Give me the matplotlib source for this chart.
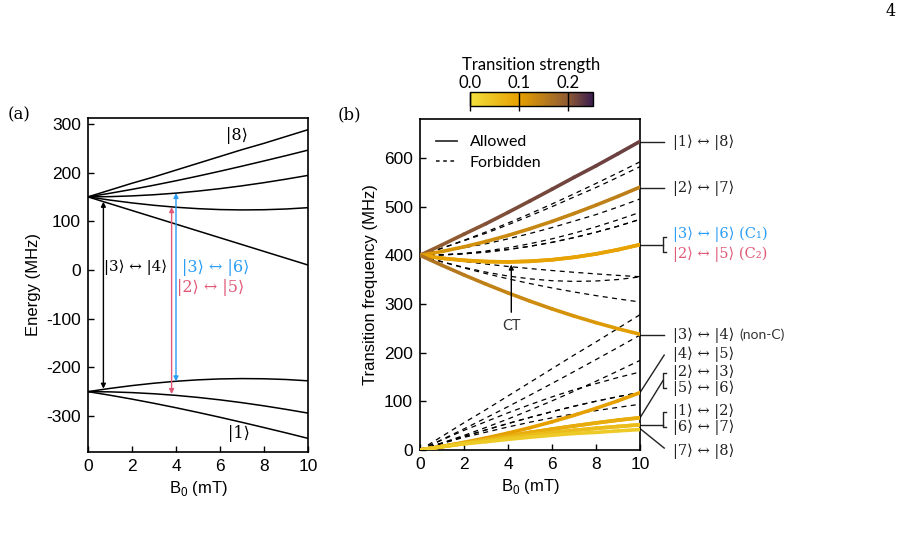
import numpy as np
import matplotlib.pyplot as plt
from matplotlib.collections import LineCollection
from matplotlib.colors import LinearSegmentedColormap, Normalize
from matplotlib.lines import Line2D
import matplotlib as mpl

plt.rcParams['font.family'] = ['Liberation Sans', 'DejaVu Sans']
plt.rcParams['axes.unicode_minus'] = False
plt.rcParams['mathtext.fontset'] = 'custom'
plt.rcParams['mathtext.rm'] = 'Liberation Sans'
plt.rcParams['mathtext.sf'] = 'Liberation Sans'

SERIF = ['DejaVu Serif', 'DejaVu Sans']
SANS2 = ['Lato', 'DejaVu Sans']

# magnetic field (mT)
B = [0, 1, 2, 3, 4, 5, 6, 7, 8, 9, 10]

# energy levels |1> ... |8> (MHz)
E1 = [-250, -257.4, -265.4, -274.0, -283.1, -292.7, -302.7, -313.1, -323.8, -334.7, -346.0]
E2 = [-250, -250.5, -252.0, -254.4, -257.7, -261.9, -266.9, -272.7, -279.2, -286.4, -294.1]
E3 = [-250, -243.4, -237.6, -232.7, -228.7, -225.8, -223.9, -223.2, -223.6, -225.1, -227.8]
E4 = [150, 136, 122, 108, 94, 80, 66, 52, 38, 24, 10]
E5 = [150, 143.4, 137.6, 132.7, 128.7, 125.8, 123.9, 123.2, 123.6, 125.1, 127.8]
E6 = [150, 150.5, 152.0, 154.4, 157.7, 161.9, 166.9, 172.7, 179.2, 186.4, 194.1]
E7 = [150, 157.4, 165.4, 174.0, 183.1, 192.7, 202.7, 213.1, 223.8, 234.7, 246.0]
E8 = [150, 164, 178, 191, 205, 219, 233, 247, 260, 274, 288]
levels = [E1, E2, E3, E4, E5, E6, E7, E8]

# allowed transitions (lower, upper) and their strength along B
allowed = [(1, 8), (2, 7), (3, 6), (2, 5), (3, 4),
           (4, 5), (2, 3), (5, 6), (1, 2), (6, 7), (7, 8)]
strength = {
    (1, 8): [0.19, 0.195, 0.2, 0.205, 0.21, 0.213, 0.216, 0.218, 0.22, 0.221, 0.222],
    (2, 7): [0.11, 0.115, 0.12, 0.125, 0.13, 0.135, 0.138, 0.141, 0.144, 0.147, 0.15],
    (3, 6): [0.10, 0.10, 0.10, 0.10, 0.10, 0.10, 0.10, 0.10, 0.10, 0.10, 0.10],
    (2, 5): [0.095, 0.095, 0.095, 0.095, 0.095, 0.095, 0.095, 0.095, 0.095, 0.095, 0.095],
    (3, 4): [0.165, 0.16, 0.153, 0.145, 0.138, 0.131, 0.124, 0.118, 0.112, 0.106, 0.10],
    (4, 5): [0.11, 0.108, 0.106, 0.104, 0.102, 0.10, 0.10, 0.10, 0.10, 0.10, 0.10],
    (2, 3): [0.085, 0.085, 0.085, 0.085, 0.085, 0.085, 0.085, 0.085, 0.085, 0.085, 0.085],
    (5, 6): [0.08, 0.08, 0.08, 0.08, 0.08, 0.08, 0.08, 0.08, 0.08, 0.08, 0.08],
    (1, 2): [0.06, 0.06, 0.06, 0.06, 0.06, 0.06, 0.06, 0.06, 0.06, 0.06, 0.06],
    (6, 7): [0.055, 0.055, 0.055, 0.055, 0.055, 0.055, 0.055, 0.055, 0.055, 0.055, 0.055],
    (7, 8): [0.035, 0.035, 0.035, 0.035, 0.035, 0.035, 0.035, 0.035, 0.035, 0.035, 0.035],
}
forbidden = [(1, 4), (1, 5), (1, 6), (1, 7), (2, 4), (2, 6), (2, 8),
             (3, 5), (3, 7), (3, 8), (4, 6), (4, 7), (4, 8), (5, 7),
             (5, 8), (6, 8), (1, 3)]

cmap = LinearSegmentedColormap.from_list(
    'strength', [(0.0, '#f2e03c'), (0.4, '#e6a000'), (0.8, '#8e5a34'), (1.0, '#3b1d4f')])
norm = Normalize(0, 0.25)

BLUE = '#2a9df4'
RED = '#e05a78'


def ket(a, b):
    return '|%d⟩ ↔ |%d⟩' % (a, b)


fig = plt.figure(figsize=(9.1, 5.53), dpi=100)
W, H = 910, 553
ax1 = fig.add_axes([88 / W, 1 - 452 / H, 220 / W, 334 / H])
ax2 = fig.add_axes([420 / W, 1 - 450 / H, 220 / W, 331 / H])

# ---- panel (a)
for E in levels:
    ax1.plot(B, E, color='black', lw=1.1)
ax1.set_xlim(0, 10)
ax1.set_ylim(-374, 312)
ax1.set_xticks([0, 2, 4, 6, 8, 10])
ax1.set_yticks([-300, -200, -100, 0, 100, 200, 300])
ax1.set_xlabel(r'B$_\mathsf{0}$ (mT)', fontsize=12)
ax1.set_ylabel('Energy (MHz)', fontsize=12)

for x, lo, hi, c in [(0.7, -244, 140, 'black'), (3.8, -255, 129, RED), (4.0, -229, 158, BLUE)]:
    ax1.annotate('', xy=(x, hi), xytext=(x, lo),
                 arrowprops=dict(arrowstyle='<|-|>', color=c, lw=1.0,
                                 mutation_scale=7, shrinkA=0, shrinkB=0))
ax1.text(0.75, 5, ket(3, 4), fontsize=10.8, family=SERIF, va='center')
ax1.text(4.25, 5, ket(3, 6), fontsize=11.5, family=SERIF, va='center', color=BLUE)
ax1.text(4.05, -36, ket(2, 5), fontsize=11.5, family=SERIF, va='center', color=RED)
ax1.text(6.25, 276, '|8⟩', fontsize=11.5, family=SERIF, va='center')
ax1.text(6.35, -336, '|1⟩', fontsize=11.5, family=SERIF, va='center')

# ---- panel (b)
for i, j in forbidden:
    f = np.array(levels[j - 1]) - np.array(levels[i - 1])
    ax2.plot(B, f, color='black', lw=0.9, ls=(0, (4, 3.5)), zorder=2)

for i, j in allowed:
    f = np.array(levels[j - 1]) - np.array(levels[i - 1])
    pts = np.column_stack([B, f])
    segs = np.stack([pts[:-1], pts[1:]], axis=1)
    s = np.array(strength[(i, j)])
    lc = LineCollection(segs, cmap=cmap, norm=norm, linewidths=2.6,
                        capstyle='round', zorder=3)
    lc.set_array((s[:-1] + s[1:]) / 2)
    ax2.add_collection(lc)

ax2.set_xlim(0, 10)
ax2.set_ylim(0, 680)
ax2.set_xticks([0, 2, 4, 6, 8, 10])
ax2.set_yticks([0, 100, 200, 300, 400, 500, 600])
ax2.set_xlabel(r'B$_\mathsf{0}$ (mT)', fontsize=12)
ax2.set_ylabel('Transition frequency (MHz)', fontsize=12)

handles = [Line2D([], [], color='#333333', lw=1.3),
           Line2D([], [], color='#333333', lw=1.3, ls=(0, (2, 2)))]
leg = ax2.legend(handles, ['Allowed', 'Forbidden'], loc='upper left',
                 frameon=False, prop={'family': SANS2, 'size': 11.5},
                 handlelength=1.3, borderaxespad=0.6, labelspacing=0.4)

ax2.annotate('', xy=(4.15, 381), xytext=(4.15, 283),
             arrowprops=dict(arrowstyle='-|>', color='black', lw=1.0,
                             mutation_scale=7, shrinkA=0, shrinkB=0))
ax2.text(4.15, 255, 'CT', fontsize=10.5, family=SANS2, ha='center', va='center', color='#333333')

lk = dict(color='#222222', lw=1.0, clip_on=False)
tx = 11.5


def lab(y, s, color='#222222'):
    ax2.text(tx, y, s, fontsize=10.5, family=SERIF, va='center', color=color, clip_on=False)


def bracket(y_top, y_bot):
    ax2.plot([11.2, 11.05, 11.05, 11.2], [y_top, y_top, y_bot, y_bot], **lk)


ax2.plot([10, 11.1], [633, 633], **lk)
lab(633, ket(1, 8))
ax2.plot([10, 11.1], [538, 538], **lk)
lab(538, ket(2, 7))
ax2.plot([10, 11.05], [421, 421], **lk)
bracket(438, 407)
lab(443, ket(3, 6) + ' (C₁)', BLUE)
lab(402, ket(2, 5) + ' (C₂)', RED)
ax2.plot([10, 11.1], [236, 236], **lk)
lab(236, ket(3, 4))
ax2.text(14.5, 236, '(non-C)', fontsize=10, family=SANS2, va='center', color='#333333', clip_on=False)
ax2.plot([10, 11.1], [118, 195], **lk)
lab(196, ket(4, 5))
ax2.plot([10, 11.05], [66, 143], **lk)
bracket(158, 127)
lab(159, ket(2, 3))
lab(127, ket(5, 6))
ax2.plot([10, 11.05], [52, 52], **lk)
bracket(79, 48)
lab(80, ket(1, 2))
lab(47, ket(6, 7))
ax2.plot([10, 11.1], [44, 4], **lk)
lab(-3, ket(7, 8))

for ax in (ax1, ax2):
    ax.tick_params(direction='in', length=4, width=1, labelsize=12.5, pad=5)
    for sp in ax.spines.values():
        sp.set_linewidth(1.2)

# ---- colour bar
cax = fig.add_axes([470 / W, 1 - 106 / H, 123 / W, 14 / H])
cb = mpl.colorbar.ColorbarBase(cax, cmap=cmap, norm=norm, orientation='horizontal',
                               ticks=[0, 0.1, 0.2])
cb.ax.xaxis.set_ticks_position('top')
cb.ax.xaxis.set_label_position('top')
cb.ax.set_xticklabels(['0.0', '0.1', '0.2'])
cb.ax.tick_params(direction='in', length=14, width=1, labelsize=12, pad=1,
                  labelfontfamily='Lato')
cb.outline.set_linewidth(1.0)
cax.set_title('Transition strength', fontsize=12, family=SANS2, pad=3)

fig.text(8 / W, 1 - 115 / H, '(a)', fontsize=12, family=SERIF, va='center')
fig.text(338 / W, 1 - 115 / H, '(b)', fontsize=12, family=SERIF, va='center')
fig.text(886 / W, 1 - 12 / H, '4', fontsize=11.5, family=SERIF, va='center')

fig.savefig('out.png', dpi=100)
